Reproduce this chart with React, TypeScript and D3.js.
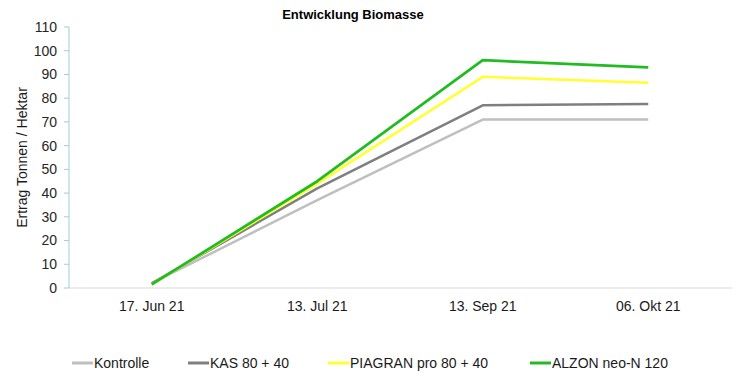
import React from "react";
import * as d3 from "d3";

const categories = ["17. Jun 21", "13. Jul 21", "13. Sep 21", "06. Okt 21"];
const seriesNames = ["Kontrolle", "KAS 80 + 40", "PIAGRAN pro 80 + 40", "ALZON neo-N 120"];
const kontrolle = [2, 37, 71, 71];
const kas = [2, 42, 77, 77.5];
const piagran = [1.5, 44, 89, 86.5];
const alzon = [1.5, 45, 96, 93];
const yTicks = [0, 10, 20, 30, 40, 50, 60, 70, 80, 90, 100, 110];
const colors = ["#bfbfbf", "#7f7f7f", "#ffff33", "#22bb22"];

const W = 750, H = 377;
const left = 69, right = 731, top = 27, bottom = 288;
const font = "'Liberation Sans', Arial, sans-serif";

export default function App() {
  const x = d3.scaleBand<string>().domain(categories).range([left, right]);
  const y = d3.scaleLinear().domain([0, 110]).range([bottom, top]);
  const cx = (c: string) => (x(c) as number) + x.bandwidth() / 2;
  const allSeries = [kontrolle, kas, piagran, alzon];
  const line = d3
    .line<number>()
    .x((_, i) => cx(categories[i]))
    .y((d) => y(d));
  const legendX = [72, 188, 328, 530];
  return (
    <svg width={W} height={H} style={{ position: "absolute", left: 0, top: 0, background: "#fff" }} fontFamily={font}>
      <rect x={0} y={0} width={W} height={H} fill="#fff" />
      <text x={353} y={19} textAnchor="middle" fontSize={13} fontWeight="bold" fill="#000">
        Entwicklung Biomasse
      </text>
      <text
        transform={`translate(27,${(top + bottom) / 2}) rotate(-90)`}
        textAnchor="middle"
        fontSize={14}
        fill="#1a1a1a"
      >
        Ertrag Tonnen / Hektar
      </text>
      {/* x baseline */}
      <line x1={left} x2={right + 1} y1={y(0)} y2={y(0)} stroke="#d9d9d9" strokeWidth={1} />
      {/* y axis */}
      <line x1={left} x2={left} y1={y(110)} y2={y(0)} stroke="#9fcfd3" strokeWidth={1} />
      {yTicks.map((t) => (
        <g key={t}>
          <line x1={left - 5} x2={left} y1={y(t)} y2={y(t)} stroke="#9fcfd3" strokeWidth={1} />
          <text x={57} y={y(t)} dy="0.35em" textAnchor="end" fontSize={14} fill="#262626">
            {t}
          </text>
        </g>
      ))}
      {categories.map((c) => (
        <text key={c} x={cx(c)} y={306} dy="0.35em" textAnchor="middle" fontSize={14} fill="#1a1a1a">
          {c}
        </text>
      ))}
      {allSeries.map((s, i) => (
        <path
          key={i}
          d={line(s) as string}
          fill="none"
          stroke={colors[i]}
          strokeWidth={i === 3 ? 2.75 : 2.5}
          strokeLinejoin="round"
          strokeLinecap="butt"
        />
      ))}
      {seriesNames.map((n, i) => (
        <g key={n}>
          <line x1={legendX[i]} x2={legendX[i] + 21} y1={363} y2={363} stroke={colors[i]} strokeWidth={3} />
          <text x={legendX[i] + 22} y={363} dy="0.35em" fontSize={14} fill="#1a1a1a">
            {n}
          </text>
        </g>
      ))}
    </svg>
  );
}
